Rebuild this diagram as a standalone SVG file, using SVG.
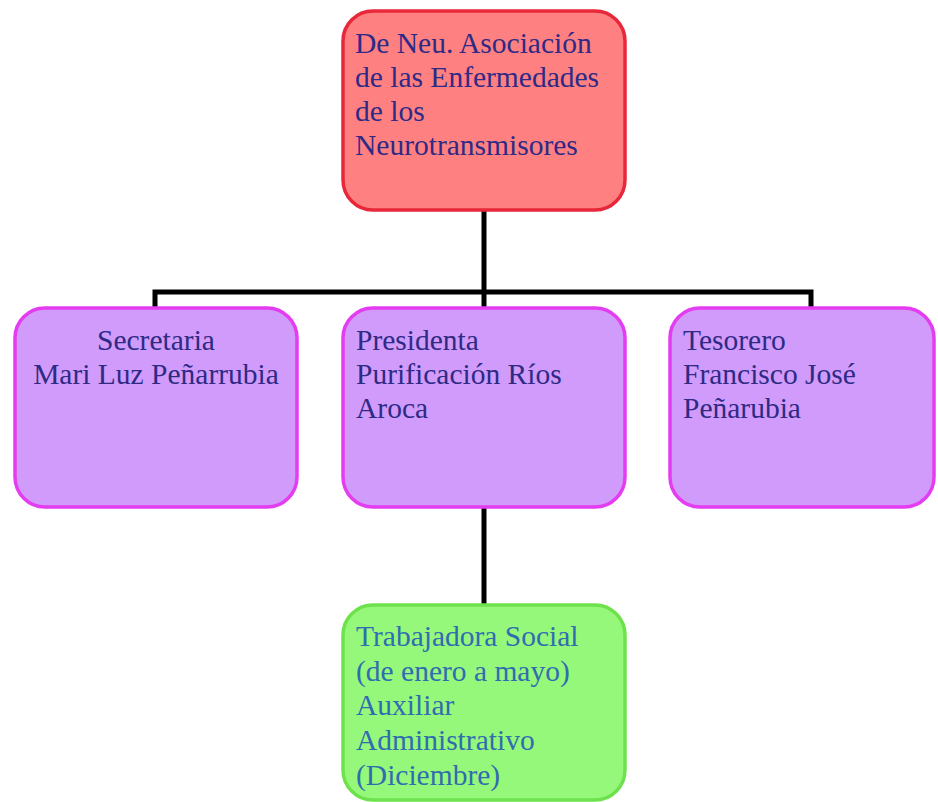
<svg xmlns="http://www.w3.org/2000/svg" width="938" height="802" viewBox="0 0 938 802">
<style>
.box{stroke-width:3.5}
.red{fill:#ff8080;stroke:#e8283a}
.pur{fill:#d19bfb;stroke:#e43cf0}
.grn{fill:#96f87a;stroke:#6ee24c}
text{font-family:"Liberation Serif","Times New Roman",serif;font-size:29.5px}
.t1{fill:#2e2a86}
.t2{fill:#2f6db0}
.conn{stroke:#000;stroke-width:5;fill:none}
</style>
<rect width="938" height="802" fill="#fff"/>
<g id="connectors">
<path class="conn" d="M484 210V292M155 309V292H811V309M484 292V309M484 507V605"/>
</g>
<g id="root">
<rect class="box red" x="343" y="11" width="282" height="199" rx="30"/>
<text class="t1" x="355"><tspan x="355" y="53">De Neu. Asociación</tspan><tspan x="355" y="87">de las Enfermedades</tspan><tspan x="355" y="121">de los</tspan><tspan x="355" y="155">Neurotransmisores</tspan></text>
</g>
<g id="secretaria">
<rect class="box pur" x="15" y="308" width="282" height="199" rx="30"/>
<text class="t1" text-anchor="middle"><tspan x="156" y="350">Secretaria</tspan><tspan x="156" y="384">Mari Luz Peñarrubia</tspan></text>
</g>
<g id="presidenta">
<rect class="box pur" x="343" y="308" width="282" height="199" rx="30"/>
<text class="t1"><tspan x="356" y="350">Presidenta</tspan><tspan x="356" y="384">Purificación Ríos</tspan><tspan x="356" y="418">Aroca</tspan></text>
</g>
<g id="tesorero">
<rect class="box pur" x="670" y="308" width="264" height="199" rx="30"/>
<text class="t1"><tspan x="683" y="350">Tesorero</tspan><tspan x="683" y="384">Francisco José</tspan><tspan x="683" y="418">Peñarubia</tspan></text>
</g>
<g id="trabajadora">
<rect class="box grn" x="343" y="605" width="282" height="195" rx="30"/>
<text class="t2"><tspan x="356" y="646">Trabajadora Social</tspan><tspan x="356" y="681">(de enero a mayo)</tspan><tspan x="356" y="715">Auxiliar</tspan><tspan x="356" y="750">Administrativo</tspan><tspan x="356" y="785">(Diciembre)</tspan></text>
</g>
</svg>
